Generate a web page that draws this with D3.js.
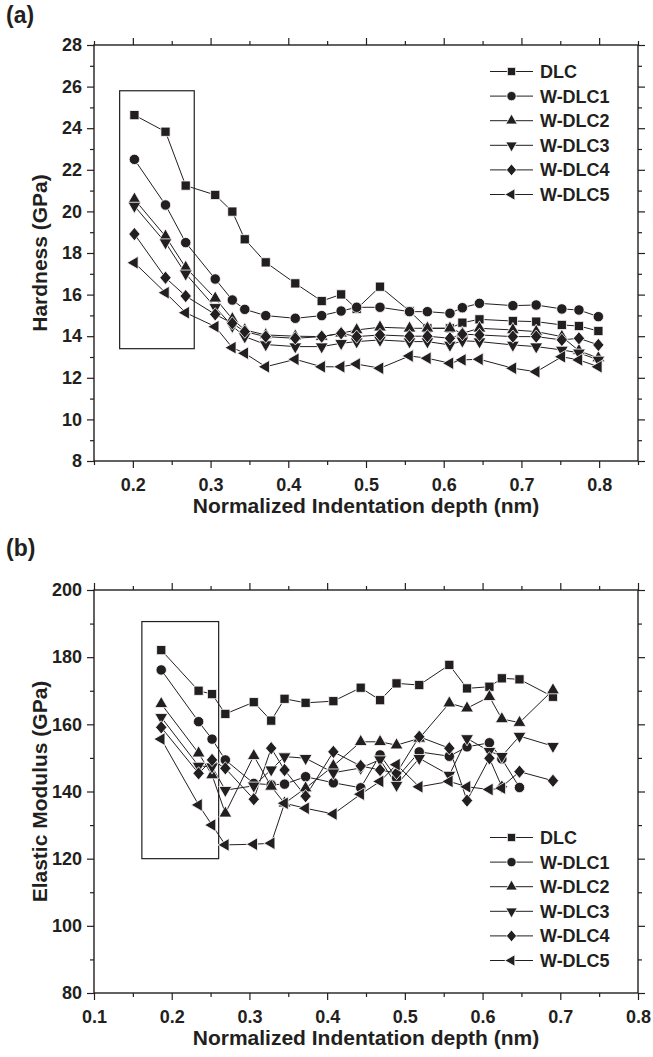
<!DOCTYPE html>
<html>
<head>
<meta charset="utf-8">
<script src="https://cdn.jsdelivr.net/npm/d3@7"></script>
<style>
  body { margin: 0; background: #fff; }
  svg text { font-family: "Liberation Sans", Arial, Helvetica, sans-serif; font-weight: bold; fill: #231f20; }
</style>
</head>
<body>
<div class="canvas"></div>
<script>
"use strict";

const seriesNames = ["DLC", "W-DLC1", "W-DLC2", "W-DLC3", "W-DLC4", "W-DLC5"];

// ---- (a) hardness vs normalized depth ----
const depthA = [0.202, 0.242, 0.268, 0.306, 0.328, 0.344, 0.371, 0.409, 0.443, 0.468, 0.488,
  0.518, 0.556, 0.579, 0.608, 0.624, 0.646, 0.689, 0.719, 0.752, 0.774, 0.799];
const hardDLC = [24.63, 23.83, 21.24, 20.79, 19.99, 18.66, 17.55, 16.54, 15.69, 16.01, 15.31,
  16.38, 15.21, 14.38, 14.38, 14.65, 14.81, 14.73, 14.70, 14.54, 14.49, 14.25];
const hardW1 = [22.50, 20.31, 18.50, 16.75, 15.74, 15.29, 14.99, 14.86, 14.99, 15.21, 15.39,
  15.39, 15.18, 15.18, 15.10, 15.37, 15.58, 15.47, 15.50, 15.31, 15.26, 14.94];
const hardW2 = [20.58, 18.80, 17.30, 15.82, 14.83, 14.30, 14.06, 14.00, 13.98, 14.14, 14.30,
  14.43, 14.38, 14.38, 14.38, 14.14, 14.38, 14.30, 14.22, 13.98, 13.30, 12.95];
const hardW3 = [20.26, 18.50, 17.00, 15.39, 14.49, 13.98, 13.60, 13.50, 13.50, 13.66, 13.74,
  13.82, 13.74, 13.74, 13.58, 13.78, 13.74, 13.58, 13.50, 13.34, 13.20, 12.86];
const hardW4 = [18.91, 16.81, 15.93, 15.05, 14.62, 14.22, 13.98, 13.90, 13.98, 14.14, 13.98,
  14.06, 14.00, 14.00, 13.90, 14.10, 14.06, 13.98, 13.98, 13.82, 13.90, 13.58];
const hardW5 = [17.53, 16.09, 15.13, 14.46, 13.45, 13.18, 12.53, 12.89, 12.53, 12.53, 12.66,
  12.46, 13.05, 12.94, 12.70, 12.86, 12.89, 12.46, 12.29, 13.01, 12.86, 12.53];
const hardXTicks = [0.2, 0.3, 0.4, 0.5, 0.6, 0.7, 0.8];
const hardXMinor = [0.15, 0.25, 0.35, 0.45, 0.55, 0.65, 0.75, 0.85];
const hardYTicks = [8, 10, 12, 14, 16, 18, 20, 22, 24, 26, 28];
const hardYMinor = [9, 11, 13, 15, 17, 19, 21, 23, 25, 27];
const hardBox = [0.183, 0.279, 13.4, 25.8];   // x0, x1, y0, y1 in data units

// ---- (b) elastic modulus vs normalized depth ----
const depthB = [0.1865, 0.2346, 0.2519, 0.269, 0.3056, 0.328, 0.3452, 0.3723, 0.408, 0.4432,
  0.4681, 0.4893, 0.5185, 0.5572, 0.58, 0.6088, 0.6248, 0.6475, 0.6906];
const modDLC = [182.1, 170.0, 169.0, 163.1, 166.6, 161.1, 167.6, 166.4, 166.9, 170.9,
  167.2, 172.2, 171.7, 177.7, 170.7, 171.2, 173.7, 173.4, 168.2];
const modW1 = [176.2, 160.8, 155.6, 149.4, 142.4, 142.0, 142.2, 144.4, 142.6, 141.1,
  150.9, 144.0, 151.8, 150.5, 153.3, 154.5, 149.7, 141.2];
const modW2 = [166.1, 151.4, 144.9, 133.5, 150.6, 141.5, 136.5, 141.0, 147.6, 154.8,
  154.8, 153.8, 155.8, 166.3, 164.8, 168.2, 161.6, 160.5, 170.2];
const modW3 = [162.1, 147.6, 147.4, 140.4, 141.7, 146.5, 150.4, 149.9, 145.6, 147.0,
  149.5, 141.9, 149.9, 144.9, 155.8, 152.0, 150.5, 156.5, 153.5];
const modW4 = [159.1, 145.4, 149.4, 146.9, 137.7, 152.9, 146.4, 138.6, 151.8, 147.6,
  146.4, 145.5, 156.3, 152.9, 137.3, 149.9, 141.4, 145.9, 143.2];
const modW5 = [155.6, 136.0, 130.0, 124.1, 124.3, 124.6, 136.5, 135.0, 133.3, 139.2,
  143.0, 148.0, 141.4, 143.0, 141.4, 140.6, 141.0];
const modXTicks = [0.1, 0.2, 0.3, 0.4, 0.5, 0.6, 0.7, 0.8];
const modXMinor = [0.15, 0.25, 0.35, 0.45, 0.55, 0.65, 0.75];
const modYTicks = [80, 100, 120, 140, 160, 180, 200];
const modYMinor = [90, 110, 130, 150, 170, 190];
const modBox = [0.1616, 0.2604, 120, 190.6];

const ink = "#231f20";

// diamond a bit wider than d3's own
const diamond = {
  draw(context, size) {
    const h = Math.sqrt(size) * 0.7, w = h * 0.85;
    context.moveTo(0, -h);
    context.lineTo(w, 0);
    context.lineTo(0, h);
    context.lineTo(-w, 0);
    context.closePath();
  }
};

const markers = [
  {type: d3.symbolSquare, size: 85, rot: 0},
  {type: d3.symbolCircle, size: 85, rot: 0},
  {type: d3.symbolTriangle, size: 72, rot: 0},
  {type: d3.symbolTriangle, size: 72, rot: 180},
  {type: diamond, size: 90, rot: 0},
  {type: d3.symbolTriangle, size: 72, rot: -90}
];

const svg = d3.select(".canvas")
  .append("svg")
    .attr("width", 653)
    .attr("height", 1057);

function drawPanel(p) {
  const x = d3.scaleLinear().domain(p.xDomain).range([94, 638]);
  const y = d3.scaleLinear().domain(p.yDomain).range([p.bottom, p.top]);
  const g = svg.append("g");

  // ticks on every side, pointing outwards
  const addAxis = (axis, transform, labels) => {
    const a = g.append("g").attr("transform", transform).call(axis);
    a.select(".domain").remove();
    a.selectAll("line").attr("stroke", ink).attr("stroke-width", 1.2);
    a.selectAll("text").attr("font-size", 18).attr("fill", ink);
    if (!labels) a.selectAll("text").remove();
    return a;
  };
  const fmt = d3.format(".1f");
  addAxis(d3.axisBottom(x).tickValues(p.xTicks).tickSize(7).tickPadding(10).tickFormat(fmt),
    `translate(0,${p.bottom})`, true);
  addAxis(d3.axisBottom(x).tickValues(p.xMinor).tickSize(4), `translate(0,${p.bottom})`, false);
  addAxis(d3.axisTop(x).tickValues(p.xTicks).tickSize(7), `translate(0,${p.top})`, false);
  addAxis(d3.axisTop(x).tickValues(p.xMinor).tickSize(4), `translate(0,${p.top})`, false);
  addAxis(d3.axisLeft(y).tickValues(p.yTicks).tickSize(7).tickPadding(5).tickFormat(d3.format("d")),
    "translate(94,0)", true);
  addAxis(d3.axisLeft(y).tickValues(p.yMinor).tickSize(4), "translate(94,0)", false);
  addAxis(d3.axisRight(y).tickValues(p.yTicks).tickSize(7), "translate(638,0)", false);
  addAxis(d3.axisRight(y).tickValues(p.yMinor).tickSize(4), "translate(638,0)", false);

  g.append("rect")
    .attr("x", 94).attr("y", p.top)
    .attr("width", 544).attr("height", p.bottom - p.top)
    .attr("fill", "none").attr("stroke", ink).attr("stroke-width", 1.4);

  // highlight box round the shallow-depth points
  g.append("rect")
    .attr("x", x(p.box[0])).attr("y", y(p.box[3]))
    .attr("width", x(p.box[1]) - x(p.box[0]))
    .attr("height", y(p.box[2]) - y(p.box[3]))
    .attr("fill", "none").attr("stroke", ink).attr("stroke-width", 1.2);

  const line = d3.line().x(d => x(d[0])).y(d => y(d[1]));
  const series = p.values.map(vals => vals.map((v, i) => [p.depth[i], v]));

  series.forEach(pts => {
    g.append("path")
      .attr("d", line(pts))
      .attr("fill", "none").attr("stroke", ink).attr("stroke-width", 1);
  });
  // white rim gives the small gap between line and marker
  series.forEach((pts, s) => {
    const m = markers[s];
    g.selectAll(null)
      .data(pts)
      .enter()
      .append("path")
        .attr("d", d3.symbol().type(m.type).size(m.size))
        .attr("transform", d => `translate(${x(d[0])},${y(d[1])}) rotate(${m.rot})`)
        .attr("fill", ink)
        .attr("stroke", "#fff")
        .attr("stroke-width", 0.8);
  });

  // legend
  seriesNames.forEach((name, i) => {
    const ly = p.legendTop + i * 24.6;
    const m = markers[i];
    g.append("line")
      .attr("x1", 490).attr("x2", 533).attr("y1", ly).attr("y2", ly)
      .attr("stroke", ink).attr("stroke-width", 1);
    g.append("path")
      .attr("d", d3.symbol().type(m.type).size(m.size * 0.8))
      .attr("transform", `translate(511.5,${ly}) rotate(${m.rot})`)
      .attr("fill", ink)
      .attr("stroke", "#fff")
      .attr("stroke-width", 0.8);
    g.append("text")
      .attr("x", 540).attr("y", ly).attr("dy", "0.36em")
      .attr("font-size", 18)
      .text(name);
  });

  // titles
  g.append("text")
    .attr("x", 6).attr("y", p.tagY)
    .attr("font-size", 23)
    .text(p.tag);
  g.append("text")
    .attr("x", 366).attr("y", p.bottom + 52)
    .attr("text-anchor", "middle")
    .attr("font-size", 21)
    .text("Normalized Indentation depth (nm)");
  g.append("text")
    .attr("transform", `translate(47,${(p.top + p.bottom) / 2}) rotate(-90)`)
    .attr("text-anchor", "middle")
    .attr("font-size", 21)
    .text(p.yTitle);
}

drawPanel({
  tag: "(a)", tagY: 23, yTitle: "Hardness (GPa)",
  top: 45, bottom: 461, legendTop: 71.5,
  xDomain: [0.15, 0.85], yDomain: [8, 28],
  xTicks: hardXTicks, xMinor: hardXMinor, yTicks: hardYTicks, yMinor: hardYMinor,
  box: hardBox, depth: depthA,
  values: [hardDLC, hardW1, hardW2, hardW3, hardW4, hardW5]
});

drawPanel({
  tag: "(b)", tagY: 556, yTitle: "Elastic Modulus (GPa)",
  top: 590, bottom: 993, legendTop: 837.5,
  xDomain: [0.1, 0.8], yDomain: [80, 200],
  xTicks: modXTicks, xMinor: modXMinor, yTicks: modYTicks, yMinor: modYMinor,
  box: modBox, depth: depthB,
  values: [modDLC, modW1, modW2, modW3, modW4, modW5]
});
</script>
</body>
</html>
